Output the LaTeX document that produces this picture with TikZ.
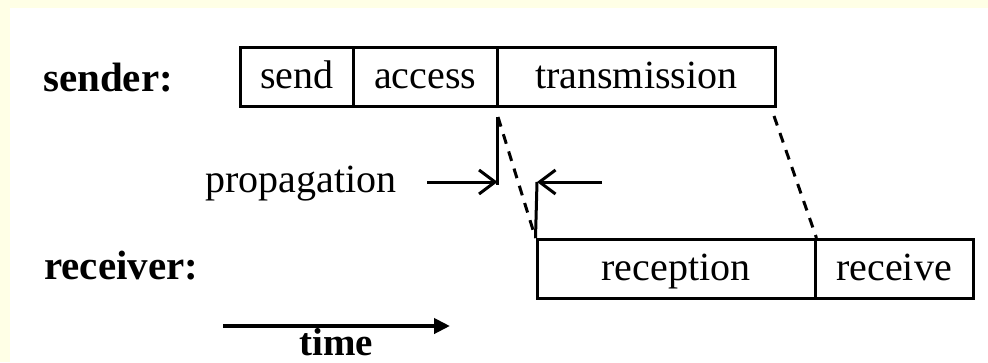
\documentclass[tikz,border=0pt]{standalone}
\usepackage{fontspec}
\setmainfont{Liberation Serif}
\usetikzlibrary{arrows.meta}
\definecolor{bgyellow}{HTML}{FFFFE6}
\tikzset{
  cell/.style={draw, line width=3pt, rectangle, inner sep=0pt, minimum height=59pt,
    text height=27pt, text depth=4pt, font=\fontsize{40}{42}\selectfont},
  lbl/.style={inner sep=0pt, font=\fontsize{41}{43}\selectfont\bfseries},
  txt/.style={inner sep=0pt, font=\fontsize{40}{42}\selectfont},
  barb/.style={line width=3pt, -{Straight Barb[length=16pt,width=24pt]}},
  vline/.style={line width=3pt},
  dashline/.style={line width=3pt, dash pattern=on 10pt off 8pt},
  timearrow/.style={line width=4pt, -{Triangle[length=16pt,width=15pt]}}
}
\begin{document}
\begin{tikzpicture}[x=1pt,y=-1pt]
\useasboundingbox (0,0) rectangle (988,362);
\fill[white] (0,0) rectangle (988,362);
\fill[bgyellow] (0,0) rectangle (988,8);
\fill[bgyellow] (0,0) rectangle (10,362);

% sender row
\node[lbl, anchor=base west] (sender) at (43,91) {sender:};
\node[cell, minimum width=112.3pt] (send) at (296.9,76.5) {send};
\node[cell, minimum width=144.5pt] (access) at (425.3,76.5) {access};
\node[cell, minimum width=277.5pt] (trans) at (636.3,76.5) {transmission};

% receiver row
\node[lbl, anchor=base west] (receiver) at (44,279) {receiver:};
\node[cell, minimum width=278pt] (recep) at (676,269) {reception};
\node[cell, minimum width=158pt] (recv) at (894,269) {receive};

% propagation
\node[txt, anchor=base west] (prop) at (205,192) {propagation};
\coordinate (v1t) at (497.5,117);
\coordinate (v1b) at (497.5,185);
\coordinate (v2t) at (537,182);
\coordinate (a1s) at (427,182);
\coordinate (a2s) at (602,182);
\draw[vline] (v1t) -- (v1b);
\draw[vline] (v2t) -- (recep.north west);
\draw[barb] (a1s) -- (v1t |- a1s);
\draw[barb] (a2s) -- (v2t);

% dashed slanted lines
\coordinate (d1t) at (498,117);
\coordinate (d2t) at (774,116);
\draw[dashline] (d1t) -- (recep.north west);
\draw[dashline] (d2t) -- (recep.north east);

% time
\coordinate (t1) at (223,326);
\coordinate (t2) at (450,326);
\draw[timearrow] (t1) -- (t2);
\node[lbl, font=\fontsize{39}{41}\selectfont\bfseries, anchor=base] (time) at (336,355) {time};
\end{tikzpicture}
\end{document}
